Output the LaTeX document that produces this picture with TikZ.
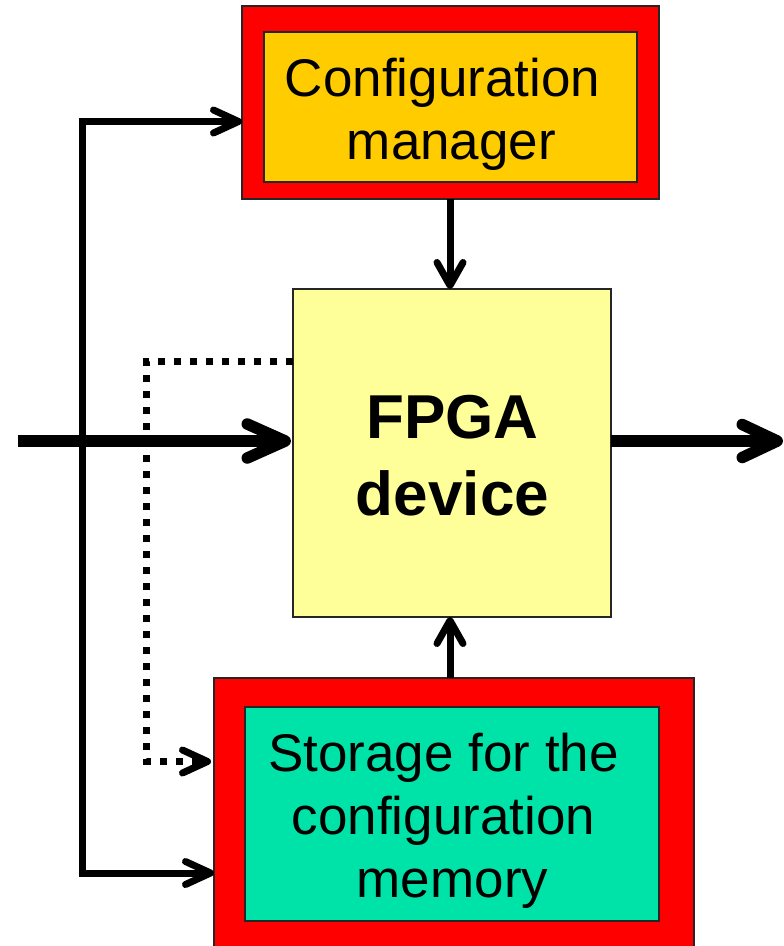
\documentclass[tikz,border=0pt]{standalone}
\usepackage{fontspec}
\setmainfont{Liberation Sans}
\usetikzlibrary{arrows.meta}
\definecolor{boxred}{HTML}{FF0000}
\definecolor{cmfill}{HTML}{FFCC00}
\definecolor{fpgafill}{HTML}{FFFF99}
\definecolor{stfill}{HTML}{00E3A8}
\begin{document}
\begin{tikzpicture}[x=1pt,y=-1pt,
  box/.style={draw=black!85, line width=1.4pt, inner sep=0pt, outer sep=0pt, rectangle},
  lbl/.style={font=\fontsize{53}{63}\selectfont, align=center, inner sep=0pt},
  biglbl/.style={font=\bfseries\fontsize{62}{77}\selectfont, align=center, inner sep=0pt},
  bigarr/.style={line width=11.5pt, -{Straight Barb[length=38pt,width=34pt,round]}},
  outarr/.style={line width=11.5pt, -{Straight Barb[length=35pt,width=33pt,round]}},
  thinarr/.style={line width=7pt, line join=miter, -{Straight Barb[length=25pt,width=23pt,round]}},
  vertarr/.style={line width=7pt, -{Straight Barb[length=23pt,width=26pt,round]}},
  dotarr/.style={line width=7pt, dash pattern=on 7pt off 9pt, line join=miter, -{Straight Barb[length=25pt,width=23pt,round]}}
]
\useasboundingbox (0,0) rectangle (784,946);

% Configuration manager
\node[box, fill=boxred, minimum width=417pt, minimum height=193pt] (cmo) at (450.5,102.5) {};
\node[box, fill=cmfill, minimum width=373pt, minimum height=150pt] (cmi) at (450.5,107) {};
\node[lbl] (cmt) at (442.5,114.5) {Configuration\\\hspace*{18pt}manager};

% FPGA device
\node[box, fill=fpgafill, minimum width=318pt, minimum height=328pt] (fpga) at (452,453) {};
\node[biglbl] (fpgat) at (452.5,456) {FPGA\\device};

% Storage
\node[box, fill=boxred, minimum width=480pt, minimum height=300pt] (sto) at (454,828) {};
\node[box, fill=stfill, minimum width=414pt, minimum height=214pt] (sti) at (452,814) {};
\node[lbl] (stt) at (443.5,820.5) {Storage for the\\configuration\\\hspace*{18pt}memory};

% coordinates
\coordinate (sT) at (82.5,121.5);
\coordinate (sB) at (82.5,873);
\coordinate (in) at (18,441);
\coordinate (out) at (783,441);
\coordinate (d1) at (146.5,361.5);
\coordinate (d2) at (146.5,761.5);

% connectors
\draw[thinarr] (sB) -- (sT) -- (sT -| cmo.west);
\draw[thinarr] (sT) -- (sB) -- (sB -| sto.west);
\draw[dotarr] (fpga.west |- d1) -- (d1) -- (d2) -- ([xshift=-3pt]d2 -| sto.west);
\draw[bigarr] (in) -- ([xshift=-2pt]in -| fpga.west);
\draw[outarr] (fpga.east |- in) -- (out);
\draw[vertarr] (cmo.south -| 450,0) -- (fpga.north -| 450,0);
\draw[vertarr] (sto.north -| 450,0) -- (fpga.south -| 450,0);
\end{tikzpicture}
\end{document}
